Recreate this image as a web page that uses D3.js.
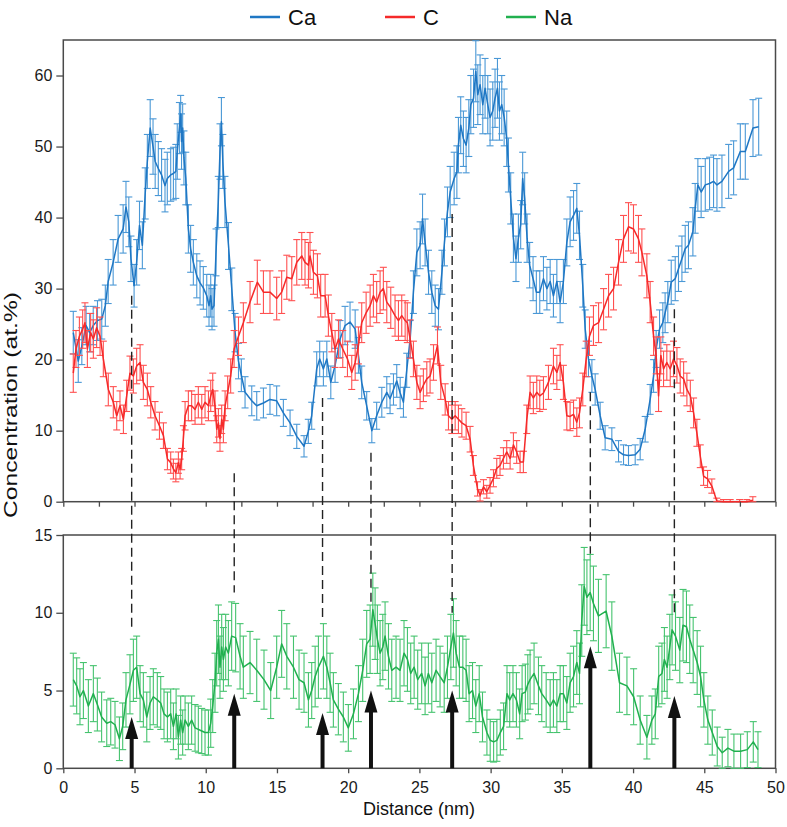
<!DOCTYPE html>
<html><head><meta charset="utf-8">
<script src="https://cdn.jsdelivr.net/npm/d3@7/dist/d3.min.js"></script>
<style>body{margin:0;background:#fff}svg{display:block;font-family:"Liberation Sans",Arial,sans-serif}</style>
</head><body><svg id="c" width="787" height="827"></svg>
<script>
// [distance nm, value at.%, error]
const caData = [[0.7,23.8,3.0],[1.05,19.8,3.0],[1.3,21.9,2.6],[1.6,24.8,2.7],[1.85,23.8,2.7],[2.1,24.8,2.7],[2.4,25.5,2.8],[2.7,25.7,2.8],[2.95,27.6,2.9],[3.15,31.0,3.1],[3.5,33.7,3.2],[3.85,37.0,3.3],[4.2,38.4,3.4],[4.4,41.5,3.6],[4.6,39.4,3.5],[4.75,34.2,3.2],[4.97,30.4,3.0],[5.15,33.7,3.2],[5.35,38.9,3.4],[5.55,36.1,3.3],[5.75,43.4,3.6],[5.9,47.9,3.8],[6.1,52.6,4.0],[6.3,50.0,3.9],[6.45,47.9,3.8],[6.67,46.9,3.8],[6.9,46.0,3.7],[7.14,44.5,3.7],[7.3,45.5,3.7],[7.54,46.0,3.7],[7.73,46.2,3.7],[7.9,46.5,3.8],[8.0,49.3,3.9],[8.15,52.6,3.6],[8.24,54.6,2.6],[8.3,50.7,3.9],[8.38,52.6,3.4],[8.47,48.4,3.8],[8.6,45.5,3.7],[8.78,38.4,3.4],[8.94,35.6,3.3],[9.13,33.7,3.2],[9.37,31.8,3.1],[9.6,30.8,3.1],[9.83,30.1,3.0],[10.07,29.0,3.0],[10.23,27.6,2.9],[10.35,29.0,3.0],[10.44,27.1,2.9],[10.58,27.6,2.9],[10.72,35.1,3.3],[10.88,42.2,3.6],[11.0,49.3,3.9],[11.1,53.5,3.4],[11.2,47.9,3.8],[11.35,42.2,3.6],[11.6,36.0,3.3],[11.83,29.9,3.0],[12.06,23.8,2.7],[12.3,19.8,2.5],[12.5,17.8,2.3],[12.76,15.4,2.2],[13.23,14.2,2.1],[13.58,13.5,2.0],[14.05,13.9,2.1],[14.51,14.4,2.1],[14.98,14.2,2.1],[15.45,12.5,1.9],[15.92,11.1,1.8],[16.39,9.2,1.7],[16.9,7.8,1.5],[17.2,9.9,1.7],[17.44,12.1,1.9],[17.79,18.7,2.4],[18.0,20.1,2.5],[18.26,18.7,2.4],[18.5,20.1,2.5],[18.78,16.8,2.3],[19.08,19.2,2.4],[19.43,22.9,2.6],[19.78,24.8,2.7],[20.13,25.3,2.8],[20.49,24.3,2.7],[20.72,20.6,2.5],[20.95,16.8,2.3],[21.3,13.5,2.0],[21.66,10.0,1.7],[22.0,12.1,1.9],[22.36,14.0,2.1],[22.71,15.4,2.2],[22.94,14.5,2.1],[23.18,15.8,2.2],[23.41,17.0,2.3],[23.65,15.3,2.2],[23.88,14.0,2.1],[24.11,18.5,2.4],[24.35,22.9,2.6],[24.58,29.5,3.0],[24.82,35.1,3.3],[25.05,36.1,3.3],[25.22,39.8,3.5],[25.4,36.5,3.3],[25.64,32.3,3.1],[25.87,29.5,3.0],[26.11,27.6,2.9],[26.34,27.1,2.9],[26.58,32.3,3.1],[26.76,36.5,3.3],[26.97,40.8,3.5],[27.16,43.6,3.6],[27.44,45.5,3.7],[27.63,46.4,3.7],[27.74,50.2,3.9],[27.9,53.0,4.0],[28.09,51.1,3.9],[28.28,50.2,3.9],[28.47,52.6,4.0],[28.61,55.9,4.1],[28.8,56.8,4.1],[28.96,60.6,4.3],[29.1,57.3,4.2],[29.26,58.7,4.2],[29.45,55.9,4.1],[29.61,58.2,4.2],[29.8,55.9,4.1],[29.96,54.1,4.0],[30.15,55.0,4.1],[30.31,56.8,4.1],[30.48,58.2,4.2],[30.62,55.0,4.1],[30.78,55.9,4.1],[30.95,54.1,4.0],[31.13,51.1,3.9],[31.25,47.4,3.8],[31.41,42.7,3.6],[31.6,37.1,3.4],[31.78,34.2,3.2],[31.95,37.1,3.4],[32.11,39.0,3.4],[32.25,45.5,3.7],[32.39,42.7,3.6],[32.56,37.1,3.4],[32.74,33.3,3.2],[32.98,31.4,3.1],[33.21,29.5,3.0],[33.45,29.5,3.0],[33.71,31.4,3.1],[33.95,30.0,3.0],[34.18,31.0,3.1],[34.41,29.0,3.0],[34.65,31.0,3.1],[34.88,28.1,2.9],[35.11,31.0,3.1],[35.35,36.5,3.3],[35.58,39.4,3.5],[35.82,40.3,3.5],[36.05,41.3,3.5],[36.24,37.5,3.4],[36.47,30.4,3.0],[36.64,24.3,2.7],[36.87,20.1,2.5],[37.11,17.7,2.3],[37.34,15.8,2.2],[37.69,12.1,1.9],[38.04,9.0,1.7],[38.51,8.8,1.6],[38.98,7.1,1.5],[39.33,6.6,1.4],[39.68,6.5,1.4],[40.15,6.6,1.4],[40.5,7.4,1.5],[40.85,10.2,1.8],[41.2,14.4,2.1],[41.44,17.7,2.3],[41.62,21.5,2.6],[41.86,24.3,2.7],[42.09,25.2,2.8],[42.25,26.6,2.8],[42.44,28.1,2.9],[42.68,30.9,3.1],[42.96,31.4,3.1],[43.19,32.8,3.2],[43.43,34.2,3.2],[43.66,35.6,3.3],[43.89,36.1,3.3],[44.2,38.0,3.4],[44.36,41.3,3.5],[44.55,44.6,3.7],[44.78,43.6,3.6],[45.07,44.6,3.7],[45.37,44.8,3.7],[45.65,45.1,3.7],[45.89,44.6,3.7],[46.24,45.1,3.7],[46.71,46.5,3.8],[47.06,47.0,3.8],[47.53,49.3,3.9],[47.88,49.3,3.9],[48.42,52.6,4.0],[48.82,52.8,4.0]];

const cData = [[0.7,18.1,2.7],[0.89,21.5,2.6],[1.13,23.3,2.7],[1.36,24.3,2.7],[1.52,25.2,2.8],[1.69,21.5,2.6],[1.92,23.8,2.7],[2.11,22.9,2.7],[2.34,24.5,2.8],[2.58,23.3,2.7],[2.81,20.1,2.5],[3.16,15.8,2.3],[3.51,14.0,2.2],[3.75,12.1,2.0],[3.98,13.5,2.1],[4.22,11.6,2.0],[4.45,14.9,2.2],[4.68,18.1,2.4],[4.92,17.7,2.4],[5.15,19.1,2.5],[5.39,19.6,2.5],[5.62,16.8,2.4],[5.9,15.8,2.3],[6.14,14.0,2.2],[6.44,12.1,2.0],[6.75,10.7,1.9],[7.03,9.3,1.8],[7.31,6.0,1.5],[7.54,5.5,1.5],[7.73,4.6,1.4],[7.9,4.1,1.3],[8.08,5.5,1.5],[8.2,4.6,1.4],[8.31,6.0,1.5],[8.43,8.9,1.8],[8.55,12.1,2.0],[8.78,13.5,2.1],[9.01,13.5,2.1],[9.25,13.0,2.1],[9.48,14.0,2.2],[9.72,13.0,2.1],[9.95,14.0,2.2],[10.19,13.5,2.1],[10.35,14.9,2.2],[10.49,15.8,2.3],[10.65,13.5,2.1],[10.77,10.2,1.9],[10.89,11.1,2.0],[11.0,8.9,1.8],[11.12,11.6,2.0],[11.24,10.2,1.9],[11.36,13.5,2.1],[11.54,15.4,2.3],[11.75,17.7,2.4],[11.99,21.5,2.6],[12.3,23.3,2.7],[12.64,25.2,2.8],[13.11,28.1,2.9],[13.62,30.9,3.1],[14.05,29.5,3.0],[14.51,29.5,3.0],[14.98,28.6,3.0],[15.33,29.5,3.0],[15.69,31.6,3.1],[16.04,31.4,3.1],[16.39,33.7,3.2],[16.74,34.6,3.3],[16.97,33.7,3.2],[17.21,33.3,3.2],[17.32,34.6,3.3],[17.56,32.3,3.1],[17.84,31.8,3.1],[18.07,29.0,3.0],[18.38,29.0,3.0],[18.61,26.2,2.9],[18.85,23.8,2.7],[19.08,21.5,2.6],[19.32,22.9,2.7],[19.62,21.5,2.6],[19.95,20.1,2.5],[20.25,18.2,2.4],[20.49,19.6,2.5],[20.72,22.0,2.6],[20.95,25.2,2.8],[21.26,26.6,2.9],[21.54,27.6,2.9],[21.77,29.0,3.0],[22.0,28.1,2.9],[22.24,29.5,3.0],[22.47,30.0,3.0],[22.71,28.1,2.9],[22.99,27.3,2.9],[23.29,26.2,2.9],[23.53,25.5,2.8],[23.76,26.2,2.9],[24.0,25.5,2.8],[24.15,25.2,2.8],[24.35,22.9,2.7],[24.58,20.1,2.5],[24.82,16.8,2.4],[25.05,15.4,2.3],[25.28,16.4,2.3],[25.52,17.3,2.4],[25.75,17.7,2.4],[25.99,19.6,2.5],[26.27,22.0,2.6],[26.5,16.8,2.4],[26.81,14.4,2.2],[27.04,12.1,2.0],[27.28,11.6,2.0],[27.51,12.1,2.0],[27.74,11.6,2.0],[27.98,11.1,2.0],[28.28,10.7,1.9],[28.56,8.8,1.8],[28.79,5.1,1.4],[29.08,1.8,1.0],[29.26,0.9,0.8],[29.5,2.1,1.0],[29.73,1.4,0.9],[29.96,2.3,1.1],[30.2,3.3,1.2],[30.43,4.7,1.4],[30.66,5.1,1.4],[30.9,6.1,1.5],[31.13,7.0,1.6],[31.37,6.1,1.5],[31.6,8.0,1.7],[31.83,7.0,1.6],[32.07,5.6,1.5],[32.3,5.6,1.5],[32.54,11.6,2.0],[32.77,15.4,2.3],[33.0,14.6,2.2],[33.24,15.4,2.3],[33.45,14.9,2.2],[33.71,15.3,2.3],[34.06,16.8,2.4],[34.41,19.1,2.5],[34.65,18.2,2.4],[34.88,19.6,2.5],[35.11,16.8,2.4],[35.35,12.1,2.0],[35.58,12.0,2.0],[35.82,12.3,2.0],[36.05,11.2,2.0],[36.24,12.5,2.1],[36.47,15.8,2.3],[36.71,20.1,2.5],[36.94,23.3,2.7],[37.22,24.8,2.8],[37.58,25.2,2.8],[37.93,27.1,2.9],[38.28,29.0,3.0],[38.63,30.0,3.0],[38.98,33.7,3.2],[39.33,37.0,3.3],[39.68,38.7,3.4],[40.03,38.4,3.4],[40.38,37.0,3.3],[40.62,35.1,3.3],[40.97,31.8,3.1],[41.2,28.1,2.9],[41.44,23.3,2.7],[41.62,20.6,2.6],[41.79,14.9,2.2],[41.95,20.6,2.6],[42.14,18.7,2.5],[42.37,19.6,2.5],[42.61,18.7,2.5],[42.84,20.1,2.5],[43.08,19.2,2.5],[43.31,17.7,2.4],[43.55,17.3,2.4],[43.78,15.8,2.3],[44.02,14.9,2.2],[44.25,12.5,2.1],[44.48,9.7,1.9],[44.72,6.4,1.6],[44.95,3.6,1.3],[45.23,3.2,1.2],[45.53,2.2,1.0],[45.88,0.1,0.4],[46.35,0.0,0.3],[46.82,0.0,0.3],[47.48,0.0,0.3],[47.99,0.0,0.3],[48.41,0.2,0.5]];

const naData = [[0.7,5.7,1.7],[0.94,5.3,1.8],[1.17,4.6,1.8],[1.41,5.0,1.8],[1.76,4.0,1.7],[2.11,4.8,1.8],[2.39,4.1,1.7],[2.69,3.3,1.6],[3.05,2.9,1.5],[3.33,3.0,1.5],[3.63,2.8,1.5],[3.94,1.9,1.4],[4.17,2.7,1.5],[4.4,4.4,1.75],[4.68,5.4,1.9],[4.92,6.3,2.0],[5.15,6.5,2.0],[5.39,4.8,1.8],[5.62,4.4,1.75],[5.86,3.3,1.6],[6.09,4.2,1.7],[6.32,4.6,1.8],[6.6,4.4,1.75],[6.84,4.2,1.7],[7.07,3.5,1.6],[7.31,3.3,1.6],[7.54,3.5,1.6],[7.73,2.7,1.5],[7.92,3.5,1.6],[8.08,2.0,1.4],[8.24,3.1,1.55],[8.38,2.3,1.45],[8.55,3.1,1.55],[8.78,2.7,1.5],[9.01,3.1,1.55],[9.25,2.6,1.5],[9.48,2.5,1.5],[9.72,2.4,1.45],[9.95,2.3,1.45],[10.19,2.3,1.45],[10.35,2.9,1.55],[10.49,4.0,1.7],[10.65,5.5,1.9],[10.77,7.4,2.1],[10.89,8.3,2.2],[11.0,6.5,2.0],[11.12,7.8,2.1],[11.24,7.0,2.05],[11.4,7.8,2.1],[11.59,7.4,2.1],[11.82,8.5,2.2],[12.1,8.4,2.2],[12.41,7.2,2.1],[12.64,6.5,2.0],[13.11,6.8,2.0],[13.58,6.3,2.0],[14.09,5.7,1.9],[14.56,5.0,1.8],[14.98,6.5,2.0],[15.33,8.0,2.15],[15.69,7.2,2.1],[16.16,6.5,2.0],[16.55,5.7,1.9],[16.9,5.5,1.9],[17.21,4.4,1.75],[17.44,5.0,1.8],[17.68,5.9,1.95],[17.91,6.5,2.0],[18.26,7.2,2.1],[18.5,6.5,2.0],[18.73,5.5,1.9],[18.96,4.4,1.75],[19.31,3.8,1.65],[19.66,3.3,1.6],[20.01,2.6,1.5],[20.37,3.5,1.6],[20.72,4.8,1.8],[21.02,6.3,2.0],[21.3,8.0,2.15],[21.54,8.3,2.2],[21.73,10.2,2.35],[21.89,9.3,2.3],[22.05,8.3,2.2],[22.24,7.4,2.1],[22.43,7.8,2.1],[22.59,8.5,2.2],[22.83,7.2,2.1],[23.06,6.3,2.0],[23.36,6.5,2.0],[23.64,6.3,2.0],[23.92,7.4,2.1],[24.16,7.0,2.05],[24.39,6.1,1.95],[24.63,6.5,2.0],[24.88,5.7,1.9],[25.16,6.1,1.95],[25.4,5.3,1.85],[25.63,6.1,1.95],[25.87,5.5,1.9],[26.17,6.3,2.0],[26.45,5.9,1.95],[26.74,5.5,1.9],[26.97,6.5,2.0],[27.21,7.8,2.1],[27.39,8.7,2.2],[27.58,7.4,2.1],[27.81,6.5,2.0],[28.05,6.5,2.0],[28.28,6.3,2.0],[28.49,4.8,1.8],[28.73,5.0,1.8],[28.96,4.0,1.7],[29.2,4.8,1.8],[29.43,3.3,1.6],[29.74,2.3,1.45],[29.97,1.8,1.35],[30.21,1.7,1.3],[30.44,1.8,1.35],[30.68,2.3,1.45],[30.91,2.7,1.5],[31.15,4.8,1.8],[31.34,4.4,1.75],[31.57,4.8,1.8],[31.81,4.4,1.75],[32.04,3.5,1.6],[32.21,4.8,1.8],[32.44,4.9,1.8],[32.61,5.4,1.9],[32.77,5.7,1.9],[33.05,6.1,1.95],[33.36,5.3,1.85],[33.59,4.8,1.8],[33.9,4.4,1.75],[34.18,4.0,1.7],[34.41,4.4,1.75],[34.65,4.0,1.7],[34.88,4.8,1.8],[35.11,4.8,1.8],[35.35,4.2,1.7],[35.58,5.5,1.9],[35.82,5.9,1.95],[36.05,6.8,2.05],[36.24,6.1,1.95],[36.4,9.5,2.3],[36.57,11.7,2.5],[36.76,11.0,2.4],[36.99,11.3,2.45],[37.22,10.6,2.4],[37.57,9.8,2.35],[38.11,10.1,2.35],[38.51,8.5,2.2],[39.05,5.5,1.9],[39.57,5.3,1.85],[40.04,4.6,1.8],[40.5,3.1,1.55],[40.97,2.0,1.4],[41.32,3.1,1.55],[41.56,3.5,1.6],[41.8,5.9,1.95],[42.03,6.1,1.95],[42.2,7.0,2.05],[42.39,6.5,2.0],[42.58,7.8,2.1],[42.74,8.9,2.25],[42.98,8.5,2.2],[43.28,7.6,2.1],[43.51,9.2,2.3],[43.75,9.1,2.3],[43.98,8.3,2.2],[44.22,7.6,2.1],[44.5,6.8,2.05],[44.74,5.9,1.95],[44.97,4.4,1.75],[45.25,3.1,1.55],[45.56,2.3,1.45],[45.91,1.4,1.25],[46.26,1.0,1.0],[46.66,1.3,1.2],[47.08,1.1,1.1],[47.55,1.1,1.1],[48.02,1.2,1.15],[48.44,1.7,1.3],[48.77,1.2,1.15]];

// dashed guide lines: x position, start value (top panel scale), end value (Na scale)
const guideX     = [4.8, 12.0, 18.2, 21.6, 27.3, 37.0, 42.9];
const guideTop   = [29.0, 4.0, 14.6, 6.9, 40.5, 15.4, 27.1];
const guideEnd   = [8.8, 11.3, 9.7, 10.4, 10.0, 13.8, 10.0];
const arrowTip   = [3.3, 4.8, 3.55, 5.0, 5.0, 7.85, 4.65];

const xTicks = [0,5,10,15,20,25,30,35,40,45,50];
const yTopTicks = [0,10,20,30,40,50,60];
const yBotTicks = [0,5,10,15];
const seriesNames = ["Ca","C","Na"];
const seriesColors = ["#1f77c4","#f52a2a","#21b04f"];
const barColors = ["#4a98d6","#ff5050","#45c36e"];

const svg = d3.select("#c");
const x = d3.scaleLinear().domain([0,50]).range([63.3,775.5]);
const yT = d3.scaleLinear().domain([0,65]).range([501.7,40]);
const yB = d3.scaleLinear().domain([0,15]).range([768.3,535]);
const axisCol = "#4a4a4a";

function frame(y){
  const [y0,y1] = y.range();
  svg.append("rect").attr("x",x(0)).attr("y",y1).attr("width",x(50)-x(0)).attr("height",y0-y1)
    .attr("fill","none").attr("stroke",axisCol).attr("stroke-width",1.5);
}
frame(yT); frame(yB);

function series(data, y, i){
  const g = svg.append("g");
  const cap = 3.5;
  const bars = g.append("g").attr("stroke",barColors[i]).attr("stroke-width",1.1).attr("fill","none");
  data.forEach(d=>{
    const cx = x(d[0]);
    const lo = Math.max(0, d[1]-d[2]);
    const hi = d[1]+d[2];
    bars.append("line").attr("x1",cx).attr("x2",cx).attr("y1",y(lo)).attr("y2",y(hi));
    bars.append("line").attr("x1",cx-cap).attr("x2",cx+cap).attr("y1",y(hi)).attr("y2",y(hi));
    bars.append("line").attr("x1",cx-cap).attr("x2",cx+cap).attr("y1",y(lo)).attr("y2",y(lo));
  });
  g.append("path").datum(data).attr("fill","none").attr("stroke",seriesColors[i]).attr("stroke-width",1.5)
    .attr("stroke-linejoin","round")
    .attr("d", d3.line().x(d=>x(d[0])).y(d=>y(d[1])));
}
series(caData, yT, 0);
series(cData, yT, 1);
series(naData, yB, 2);

// axes
function yAxis(y, ticks, minorStep){
  const g = svg.append("g").attr("transform",`translate(${x(0)},0)`);
  const dom = y.domain();
  const minor = d3.range(dom[0], dom[1]+0.001, minorStep);
  g.call(d3.axisLeft(y).tickValues(minor).tickSize(4).tickFormat(""));
  g.call(d3.axisLeft(y).tickValues(ticks).tickSize(7).tickPadding(4).tickFormat(d3.format("d")));
  g.selectAll("path.domain").remove();
  g.selectAll("line").attr("stroke",axisCol).attr("stroke-width",1.3);
  g.selectAll("text").attr("font-size",16).attr("fill","#1a1a1a").attr("font-family","Liberation Sans, Arial, sans-serif");
}
yAxis(yT, yTopTicks, 5);
yAxis(yB, yBotTicks, 1);

function xAxis(yPos, labels){
  const g = svg.append("g").attr("transform",`translate(0,${yPos})`);
  g.call(d3.axisBottom(x).tickValues(d3.range(0,50.01,2.5)).tickSize(5).tickFormat(""));
  if(labels){
    g.call(d3.axisBottom(x).tickValues(xTicks).tickSize(5).tickPadding(8).tickFormat(d3.format("d")));
  }
  g.selectAll("path.domain").remove();
  g.selectAll("line").attr("stroke",axisCol).attr("stroke-width",1.3);
  g.selectAll("text").attr("font-size",16).attr("fill","#1a1a1a").attr("font-family","Liberation Sans, Arial, sans-serif");
}
xAxis(yT(0), false);
xAxis(yB(0), true);

// dashed guides
guideX.forEach((gx,i)=>{
  svg.append("line").attr("x1",x(gx)).attr("x2",x(gx)).attr("y1",yT(guideTop[i])).attr("y2",yB(guideEnd[i]))
    .attr("stroke","#222").attr("stroke-width",1.4).attr("stroke-dasharray","9,5");
});
// arrows
guideX.forEach((gx,i)=>{
  const cx = x(gx), base = yB(0), tip = yB(arrowTip[i]);
  svg.append("line").attr("x1",cx).attr("x2",cx).attr("y1",base).attr("y2",tip+18)
    .attr("stroke","#111").attr("stroke-width",4);
  svg.append("path").attr("d",`M${cx},${tip} L${cx-6.5},${tip+22} L${cx+6.5},${tip+22} Z`).attr("fill","#111");
});

// legend
const legX = [250, 385, 506];
seriesNames.forEach((n,i)=>{
  svg.append("line").attr("x1",legX[i]).attr("x2",legX[i]+30).attr("y1",17).attr("y2",17)
    .attr("stroke",seriesColors[i]).attr("stroke-width",2.5);
  svg.append("text").attr("x",legX[i]+38).attr("y",25).text(n).attr("font-size",22).attr("fill","#111");
});

// axis titles
svg.append("text").attr("x",419).attr("y",815).attr("text-anchor","middle").attr("font-size",18)
  .attr("fill","#111").text("Distance (nm)");
svg.append("text").attr("transform","translate(17,405) rotate(-90)").attr("text-anchor","middle")
  .attr("font-size",19).attr("textLength",226).attr("lengthAdjust","spacingAndGlyphs")
  .attr("fill","#111").text("Concentration (at.%)");
</script></body></html>
